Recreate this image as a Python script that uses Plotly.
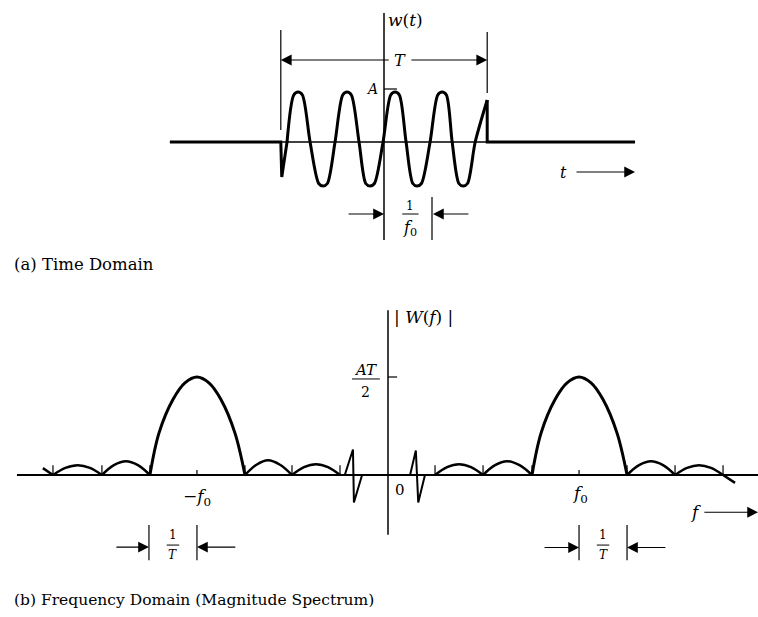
import plotly.graph_objects as go

# ---------------- (a) Time domain: t in units of 1/f0, w in units of A ----------------
lead_t = [-4.46, -2.15, -2.13, -2.02]
lead_w = [0, 0, -0.70, 0]
burst_t = [-2.02, -1.88, -1.79, -1.70, -1.54, -1.36, -1.27, -1.18, -1.02,
           -0.86, -0.77, -0.68, -0.52, -0.38, -0.29, -0.20, -0.02,
           0.14, 0.23, 0.32, 0.46, 0.60, 0.69, 0.78, 0.96,
           1.12, 1.21, 1.30, 1.42, 1.56, 1.65, 1.74, 1.90, 2.15]
burst_w = [0, 0.94, 1, 0.94, 0, -0.83, -0.88, -0.83, 0,
           0.94, 1, 0.94, 0, -0.83, -0.88, -0.83, 0,
           0.94, 1, 0.94, 0, -0.83, -0.88, -0.83, 0,
           0.94, 1, 0.94, 0, -0.83, -0.88, -0.83, 0, 0.84]
tail_t = [2.15, 2.15, 5.23]
tail_w = [0.84, 0, 0]
burst_start, burst_end = -2.15, 2.15      # T
period_mark = 1.0                          # 1/f0

# ---------------- (b) Frequency domain: f in units of 1/T, |W| in units of AT/2 ----------------
lobe_zeros = [-6.98, -5.96, -4.96, -2.98, -2.00, -1.00, 0.98, 1.98, 3.00, 4.98, 5.98, 6.98]
side_lo = [-6.98, -5.96, -2.98, -2.00, 0.98, 1.98, 4.98, 5.98]
side_q1_f = [-6.72, -5.71, -2.74, -1.75, 1.23, 2.23, 5.23, 6.23]
side_peak_f = [-6.46, -5.46, -2.50, -1.50, 1.48, 2.48, 5.48, 6.48]
side_q2_f = [-6.21, -5.21, -2.25, -1.25, 1.73, 2.74, 5.73, 6.73]
side_hi = [-5.96, -4.96, -2.00, -1.00, 1.98, 3.00, 5.98, 6.98]
side_peak_mag = [0.10, 0.14, 0.15, 0.11, 0.11, 0.14, 0.14, 0.10]
side_q_mag = [0.072, 0.10, 0.105, 0.08, 0.08, 0.10, 0.10, 0.072]
main_neg_f = [-4.96, -4.77, -4.48, -4.23, -3.98, -3.73, -3.48, -3.19, -2.98]
main_pos_f = [3.00, 3.19, 3.48, 3.73, 3.98, 4.23, 4.48, 4.77, 4.98]
main_mag = [0, 0.43, 0.77, 0.94, 1.0, 0.94, 0.77, 0.43, 0]
edge_left_f, edge_left_mag = [-7.19, -6.98], [0.07, 0]
edge_right_f, edge_right_mag = [6.98, 7.23], [0, -0.08]
wig_neg_f = [-1.00, -0.90, -0.73, -0.71, -0.54, 0]
wig_neg_mag = [0, 0, 0.26, -0.28, 0, 0]
wig_pos_f = [0, 0.46, 0.58, 0.63, 0.77, 0.98]
wig_pos_mag = [0, 0, 0.25, -0.28, 0, 0]
f0_marks = [-3.98, 3.98]

BLACK = "black"
SERIF = "DejaVu Serif"

fig = go.Figure()

def line_trace(x, y, axes, width=3, shape="linear", smoothing=1.0):
    xa, ya = axes
    fig.add_trace(go.Scatter(x=x, y=y, mode="lines", xaxis=xa, yaxis=ya,
                             line=dict(color=BLACK, width=width, shape=shape, smoothing=smoothing),
                             hoverinfo="skip", showlegend=False))

TOP = ("x", "y")
BOT = ("x2", "y2")

# time-domain signal
line_trace(lead_t, lead_w, TOP)
line_trace(burst_t, burst_w, TOP, shape="spline", smoothing=0.8)
line_trace(tail_t, tail_w, TOP)

# spectrum
line_trace(edge_left_f, edge_left_mag, BOT, width=2.5)
line_trace(edge_right_f, edge_right_mag, BOT, width=2.5)
for lo, q1, pf, q2, hi, pm, qm in zip(side_lo, side_q1_f, side_peak_f, side_q2_f, side_hi,
                                      side_peak_mag, side_q_mag):
    line_trace([lo, q1, pf, q2, hi], [0, qm, pm, qm, 0], BOT, width=2.5, shape="spline")
line_trace(main_neg_f, main_mag, BOT, width=3, shape="spline")
line_trace(main_pos_f, main_mag, BOT, width=3, shape="spline")
line_trace(wig_neg_f, wig_neg_mag, BOT, width=2)
line_trace(wig_pos_f, wig_pos_mag, BOT, width=2)

shapes = []
def seg(x0, y0, x1, y1, xref, yref, w=1.3):
    shapes.append(dict(type="line", x0=x0, y0=y0, x1=x1, y1=y1, xref=xref, yref=yref,
                       line=dict(color=BLACK, width=w)))

# ---- top axes & dimension lines
seg(lead_t[0], 0, tail_t[-1], 0, "x", "y", 1.3)
seg(0, -1.96, 0, 2.58, "x", "y", 1.5)
seg(0, 1.06, 0.27, 1.06, "x", "y", 1.2)                      # A tick
seg(burst_start, 0.24, burst_start, 2.24, "x", "y", 1.2)      # T extension lines
seg(burst_end, 0.98, burst_end, 2.20, "x", "y", 1.2)
seg(period_mark, -1.10, period_mark, -1.96, "x", "y", 1.2)    # 1/f0 marker
seg(0.38, -1.44, 0.72, -1.44, "x", "y", 1.0)                  # fraction bar

# ---- bottom axes, ticks, dimension lines
seg(-7.73, 0, 7.71, 0, "x2", "y2", 2)
seg(0, -0.61, 0, 1.68, "x2", "y2", 1.5)
seg(0, 1.0, 0.19, 1.0, "x2", "y2", 1.2)                      # AT/2 tick
for z in lobe_zeros:
    seg(z, 0, z, 0.10, "x2", "y2", 1.2)
for m in f0_marks:
    seg(m, 0, m, 0.05, "x2", "y2", 1.2)
for a, b in [(-4.98, -3.98), (3.98, 4.98)]:
    seg(a, -0.51, a, -0.87, "x2", "y2", 1.2)
    seg(b, -0.51, b, -0.87, "x2", "y2", 1.2)
    c = (a + b) / 2
    seg(c - 0.13, -0.715, c + 0.13, -0.715, "x2", "y2", 1.0)
seg(-0.75, 0.98, -0.17, 0.98, "x2", "y2", 1.0)                # AT/2 fraction bar

annotations = []
def arrow(xh, y, xt, xref, yref):
    annotations.append(dict(x=xh, y=y, ax=xt, ay=y, xref=xref, yref=yref, axref=xref, ayref=yref,
                            text="", showarrow=True, arrowhead=2, arrowsize=1.8,
                            arrowwidth=1.2, arrowcolor=BLACK, standoff=0, startstandoff=0))

def label(x, y, text, xref, yref, size=15, xanchor="center", yanchor="middle"):
    annotations.append(dict(x=x, y=y, text=text, xref=xref, yref=yref, showarrow=False,
                            xanchor=xanchor, yanchor=yanchor,
                            font=dict(family=SERIF, size=size, color=BLACK)))

# top labels / arrows
arrow(burst_start, 1.64, 0.13, "x", "y")
arrow(burst_end, 1.64, 0.54, "x", "y")
arrow(0, -1.44, -0.77, "x", "y")
arrow(1.02, -1.44, 1.79, "x", "y")
arrow(5.23, -0.60, 3.98, "x", "y")
label(0.04, 2.44, "<i>w</i>(<i>t</i>)", "x", "y", 17, xanchor="left")
label(0.33, 1.64, "<i>T</i>", "x", "y", 16)
label(-0.08, 1.06, "<i>A</i>", "x", "y", 14, xanchor="right")
label(0.55, -1.27, "1", "x", "y", 12)
label(0.55, -1.73, "<i>f</i><sub>0</sub>", "x", "y", 16)
label(3.73, -0.60, "<i>t</i>", "x", "y", 16)

# bottom labels / arrows
arrow(-4.98, -0.735, -5.69, "x2", "y2")
arrow(-3.98, -0.735, -3.15, "x2", "y2")
arrow(3.98, -0.74, 3.23, "x2", "y2")
arrow(4.98, -0.74, 5.81, "x2", "y2")
arrow(7.71, -0.38, 6.56, "x2", "y2")
label(0.08, 1.61, "| <i>W</i>(<i>f</i>) |", "x2", "y2", 17, xanchor="left")
label(-0.46, 1.07, "<i>AT</i>", "x2", "y2", 15)
label(-0.46, 0.85, "2", "x2", "y2", 14)
label(-3.98, -0.23, "\u2212<i>f</i><sub>0</sub>", "x2", "y2", 17)
label(0.24, -0.15, "0", "x2", "y2", 15)
label(4.00, -0.20, "<i>f</i><sub>0</sub>", "x2", "y2", 17)
label(6.40, -0.38, "<i>f</i>", "x2", "y2", 17)
for c in [-4.48, 4.48]:
    label(c, -0.61, "1", "x2", "y2", 12)
    label(c, -0.82, "<i>T</i>", "x2", "y2", 12)

# captions
label(12 / 758, 1 - 264 / 617, "(a) Time Domain", "paper", "paper", 16.5, xanchor="left")
label(12 / 758, 1 - 600 / 617, "(b) Frequency Domain (Magnitude Spectrum)", "paper", "paper", 15.5,
      xanchor="left")

fig.update_layout(
    width=758, height=617,
    margin=dict(l=0, r=0, t=0, b=0),
    paper_bgcolor="white", plot_bgcolor="white",
    showlegend=False,
    xaxis=dict(domain=[0, 1], range=[-8.0, 7.7917], visible=False, anchor="y"),
    yaxis=dict(domain=[1 - 300 / 617, 1], range=[-3.16, 2.84], visible=False, anchor="x"),
    xaxis2=dict(domain=[0, 1], range=[-8.0833, 7.7083], visible=False, anchor="y2"),
    yaxis2=dict(domain=[0, 317 / 617], range=[-1.449, 1.7857], visible=False, anchor="x2"),
    shapes=shapes,
    annotations=annotations,
)

fig.write_html("out.html", config={"displayModeBar": False},
               post_script="document.body.style.margin='0';")
